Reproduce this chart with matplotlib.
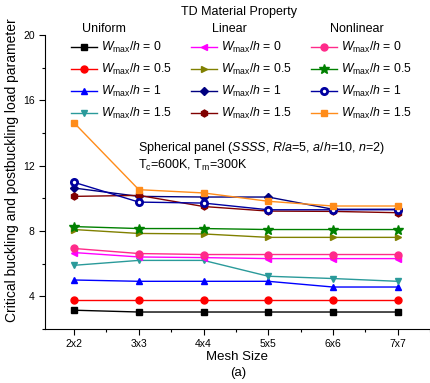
import matplotlib
matplotlib.use("Agg")
import matplotlib.pyplot as plt
from matplotlib.ticker import MultipleLocator

plt.rcParams["font.family"] = ["Liberation Sans", "DejaVu Sans"]
plt.rcParams["mathtext.fontset"] = "custom"
plt.rcParams["mathtext.rm"] = "Liberation Sans"
plt.rcParams["mathtext.it"] = "Liberation Sans:italic"

mesh = ["2x2", "3x3", "4x4", "5x5", "6x6", "7x7"]
wmax = ["0", "0.5", "1", "1.5"]

uniform_0 = [3.15, 3.04, 3.04, 3.04, 3.04, 3.04]
uniform_05 = [3.8, 3.8, 3.8, 3.8, 3.8, 3.8]
uniform_1 = [5.0, 4.92, 4.92, 4.92, 4.57, 4.57]
uniform_15 = [5.9, 6.2, 6.2, 5.23, 5.09, 4.92]

linear_0 = [6.68, 6.41, 6.37, 6.31, 6.31, 6.31]
linear_05 = [8.09, 7.85, 7.82, 7.61, 7.61, 7.61]
linear_1 = [10.63, 10.12, 10.08, 10.08, 9.33, 9.33]
linear_15 = [10.12, 10.18, 9.5, 9.22, 9.2, 9.12]

nonlinear_0 = [6.93, 6.62, 6.56, 6.56, 6.56, 6.56]
nonlinear_05 = [8.27, 8.15, 8.15, 8.09, 8.09, 8.09]
nonlinear_1 = [10.98, 9.77, 9.71, 9.3, 9.3, 9.3]
nonlinear_15 = [14.62, 10.53, 10.33, 9.82, 9.53, 9.53]

groups = [
    ("Uniform", [uniform_0, uniform_05, uniform_1, uniform_15]),
    ("Linear", [linear_0, linear_05, linear_1, linear_15]),
    ("Nonlinear", [nonlinear_0, nonlinear_05, nonlinear_1, nonlinear_15]),
]

# (color, marker, markerfacecolor) per group / W_max
styles = [
    [("black", "s", None), ("red", "o", None), ("blue", "^", None), ("#2a9a9a", "v", None)],
    [("magenta", "<", None), ("#808000", ">", None), ("#000080", "D", None), ("#800000", "h", None)],
    [("#ff2a8a", "o", None), ("#008000", "*", None), ("#0000a0", "o", "white"), ("#ff8c1a", "s", None)],
]

fig = plt.figure(figsize=(4.3, 3.83), dpi=100)
ax = fig.add_axes([45 / 430, 54 / 383, 385 / 430, 294 / 383])

x = list(range(1, len(mesh) + 1))
legend_handles = []
for (name, series), sty in zip(groups, styles):
    hs = []
    for vals, w, (c, m, mfc) in zip(series, wmax, sty):
        kw = dict(color=c, marker=m, markersize=5, linewidth=1)
        if m == "*":
            kw["markersize"] = 7
        if m == "D":
            kw["markersize"] = 4.5
        if mfc is not None:
            kw.update(markerfacecolor=mfc, markeredgewidth=2, markersize=4.5)
        (h,) = ax.plot(x, vals, label=r"$W_{\mathrm{max}}/h$ = " + w, **kw)
        hs.append(h)
    legend_handles.append(hs)

ax.set_xlim(0.55, 6.5)
ax.set_ylim(2, 20)
ax.set_xticks(x)
ax.set_xticklabels(mesh)
ax.xaxis.set_minor_locator(MultipleLocator(0.5))
ax.yaxis.set_major_locator(MultipleLocator(4))
ax.yaxis.set_minor_locator(MultipleLocator(2))
ax.tick_params(labelsize=7.5, length=4, width=0.8)
ax.tick_params(which="minor", length=2, width=0.8)
ax.spines["top"].set_visible(False)
ax.spines["right"].set_visible(False)
ax.patch.set_alpha(0)

ax.set_xlabel("Mesh Size", fontsize=9.5, labelpad=1)
fig.text(12 / 430, 1 - 170 / 383, "Critical buckling and postbuckling load parameter",
         rotation=90, ha="center", va="center", fontsize=10)
fig.text(238 / 430, 1 - 373 / 383, "(a)", ha="center", va="center", fontsize=9.5)
fig.text(239 / 430, 1 - 12 / 383, "TD Material Property", ha="center", va="center", fontsize=9)

header_x = [82, 212, 330]
legend_x = [71, 191, 311]
for (name, _), hx, lx, hs in zip(groups, header_x, legend_x, legend_handles):
    fig.text(hx / 430, 1 - 29 / 383, name, ha="left", va="center", fontsize=9)
    fig.legend(handles=hs, loc="upper left", bbox_to_anchor=(lx / 430, 1 - 40 / 383),
               frameon=False, fontsize=8.8, handlelength=2.1, handletextpad=0.35,
               labelspacing=0.56, borderpad=0, borderaxespad=0)

fig.text(138 / 430, 1 - 148 / 383, r"Spherical panel ($SSSS$, $R/a$=5, $a/h$=10, $n$=2)",
         fontsize=9, va="center")
fig.text(138 / 430, 1 - 165 / 383, r"T$_{\mathrm{c}}$=600K, T$_{\mathrm{m}}$=300K",
         fontsize=9, va="center")

fig.savefig("out.png", dpi=100)
